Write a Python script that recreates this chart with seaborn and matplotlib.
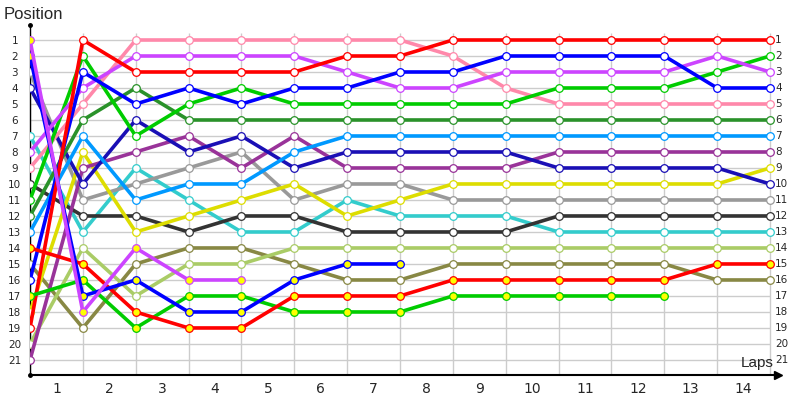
import pandas as pd
import seaborn as sns
import matplotlib.pyplot as plt

# Race positions per lap (lap 0 = grid)
laps = list(range(15))
red = [19, 1, 3, 3, 3, 3, 2, 2, 1, 1, 1, 1, 1, 1, 1]
green = [11, 2, 7, 5, 4, 5, 5, 5, 5, 5, 4, 4, 4, 3, 2]
blue = [16, 3, 5, 4, 5, 4, 4, 3, 3, 2, 2, 2, 2, 4, 4]
violet = [8, 4, 2, 2, 2, 2, 3, 4, 4, 3, 3, 3, 3, 2, 3]
pink = [9, 5, 1, 1, 1, 1, 1, 1, 2, 4, 5, 5, 5, 5, 5]
dark_green = [12, 6, 4, 6, 6, 6, 6, 6, 6, 6, 6, 6, 6, 6, 6]
light_blue = [13, 7, 11, 10, 10, 8, 7, 7, 7, 7, 7, 7, 7, 7, 7]
yellow = [18, 8, 13, 12, 11, 10, 12, 11, 10, 10, 10, 10, 10, 10, 9]
dark_purple = [21, 9, 8, 7, 9, 7, 9, 9, 9, 9, 8, 8, 8, 8, 8]
dark_blue = [4, 10, 6, 8, 7, 9, 8, 8, 8, 8, 9, 9, 9, 9, 10]
gray = [3, 11, 10, 9, 8, 11, 10, 10, 11, 11, 11, 11, 11, 11, 11]
dark_gray = [10, 12, 12, 13, 12, 12, 13, 13, 13, 13, 12, 12, 12, 12, 12]
cyan = [7, 13, 9, 11, 13, 13, 11, 12, 12, 12, 13, 13, 13, 13, 13]
light_olive = [20, 14, 17, 15, 15, 14, 14, 14, 14, 14, 14, 14, 14, 14, 14]
olive = [15, 19, 15, 14, 14, 15, 16, 16, 15, 15, 15, 15, 15, 16, 16]
red_y = [14, 15, 18, 19, 19, 17, 17, 17, 16, 16, 16, 16, 16, 15, 15]
green_y = [17, 16, 19, 17, 17, 18, 18, 18, 17, 17, 17, 17, 17]
blue_y = [2, 17, 16, 18, 18, 16, 15, 15]
violet_y = [1, 18, 14, 16, 16]

positions = list(range(1, 22))
lap_labels = [str(i) for i in range(1, 15)]

# (series, line colour, marker fill)
series = [
    (olive, "#888844", "white"),
    (light_olive, "#aacc66", "white"),
    (cyan, "#33cccc", "white"),
    (dark_gray, "#333333", "white"),
    (gray, "#999999", "white"),
    (yellow, "#dddd00", "white"),
    (dark_purple, "#993399", "white"),
    (dark_blue, "#1a0fb5", "white"),
    (light_blue, "#0099ff", "white"),
    (dark_green, "#2a922a", "white"),
    (pink, "#ff88aa", "white"),
    (green, "#00cc00", "white"),
    (violet, "#cc44ff", "white"),
    (blue, "#0000ff", "white"),
    (red, "#ff0000", "white"),
    (green_y, "#00cc00", "#ffff00"),
    (red_y, "#ff0000", "#ffff00"),
    (blue_y, "#0000ff", "#ffff00"),
    (violet_y, "#cc44ff", "#ffff00"),
]

sns.set_style("white")
plt.rcParams["font.family"] = ["DejaVu Sans"]

fig = plt.figure(figsize=(8, 4), dpi=100)
ax = fig.add_axes([30 / 800, 25 / 400, 748 / 800, 350 / 400])

# grid
ax.hlines(positions, 0, 14, color="#cccccc", lw=1, zorder=0)
ax.vlines(laps, 0.55, 21.94, color="#cccccc", lw=1, zorder=0)

for vals, col, fill in series:
    sns.lineplot(x=laps[:len(vals)], y=vals, color=col, lw=2.6, marker="o",
                 markersize=5.5, markerfacecolor=fill, markeredgecolor=col,
                 markeredgewidth=0.9, ax=ax, zorder=3)

ax.set_xlim(0, 748 / (740 / 14))
ax.set_ylim(21.94, 0.0625)

ax.set_yticks(positions)
ax.set_yticklabels([str(p) for p in positions], fontsize=7.5, ha="center")
ax.tick_params(axis="y", length=0, pad=11)
ax.set_xticks([i + 0.5 for i in range(14)])
ax.set_xticklabels(lap_labels, fontsize=10)
ax.tick_params(axis="x", length=0, pad=5)
ax.set_xlabel("")
ax.set_ylabel("")

# right-hand position labels
for p in positions:
    ax.annotate(str(p), (14, p), xytext=(5, 0), textcoords="offset pixels",
                va="center", ha="left", fontsize=7.5, annotation_clip=False)

for side in ["top", "right"]:
    ax.spines[side].set_visible(False)
ax.spines["left"].set_color("black")
ax.spines["left"].set_linewidth(1)
ax.spines["bottom"].set_color("black")
ax.spines["bottom"].set_linewidth(1.5)

ax.plot(1, 0, ">", color="black", ms=6, transform=ax.transAxes, clip_on=False)
ax.plot(0, 1, "o", color="black", ms=2.5, transform=ax.transAxes, clip_on=False)
ax.plot(0, 0, "o", color="black", ms=2.5, transform=ax.transAxes, clip_on=False)

fig.text(4 / 800, 1 - 7 / 400, "Position", fontsize=12, va="top",
         family=["Liberation Sans"])
fig.text(774 / 800, 1 - 367 / 400, "Laps", fontsize=11, ha="right",
         va="baseline", family=["Liberation Sans"])

fig.savefig("out.png", dpi=100)
